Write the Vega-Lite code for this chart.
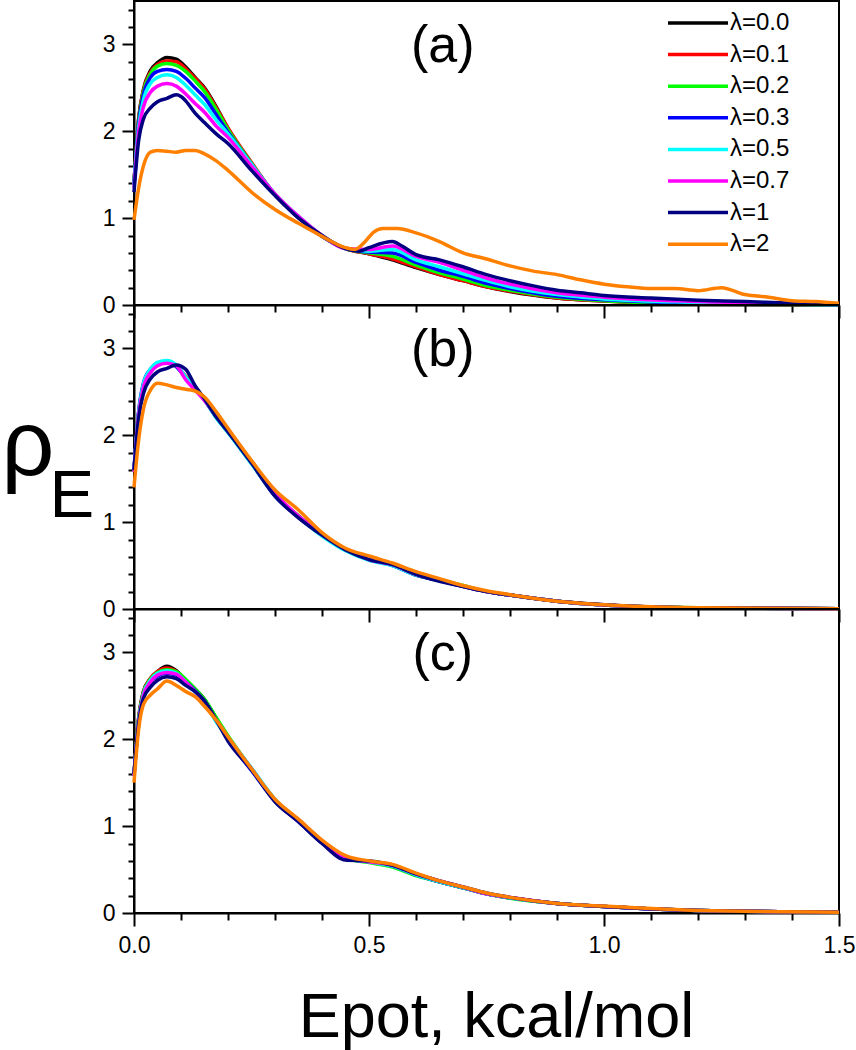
{
"$schema":"https://vega.github.io/schema/vega-lite/v6.json",
"padding":{"left":0,"top":0,"right":0,"bottom":0},
"background":"white",
"data":{"values":[
{"p":"a","l":"λ=0.0","x":0,"y":1.40},{"p":"a","l":"λ=0.0","x":0.01,"y":2.15},{"p":"a","l":"λ=0.0","x":0.02,"y":2.48},{"p":"a","l":"λ=0.0","x":0.035,"y":2.70},{"p":"a","l":"λ=0.0","x":0.05,"y":2.79},{"p":"a","l":"λ=0.0","x":0.07,"y":2.85},{"p":"a","l":"λ=0.0","x":0.09,"y":2.83},{"p":"a","l":"λ=0.0","x":0.11,"y":2.74},{"p":"a","l":"λ=0.0","x":0.13,"y":2.62},{"p":"a","l":"λ=0.0","x":0.15,"y":2.50},{"p":"a","l":"λ=0.0","x":0.175,"y":2.28},{"p":"a","l":"λ=0.0","x":0.2,"y":2.03},{"p":"a","l":"λ=0.0","x":0.25,"y":1.63},{"p":"a","l":"λ=0.0","x":0.3,"y":1.27},{"p":"a","l":"λ=0.0","x":0.35,"y":1.01},{"p":"a","l":"λ=0.0","x":0.4,"y":0.79},{"p":"a","l":"λ=0.0","x":0.45,"y":0.65},{"p":"a","l":"λ=0.0","x":0.5,"y":0.59},{"p":"a","l":"λ=0.0","x":0.55,"y":0.52},{"p":"a","l":"λ=0.0","x":0.6,"y":0.43},{"p":"a","l":"λ=0.0","x":0.65,"y":0.35},{"p":"a","l":"λ=0.0","x":0.7,"y":0.28},{"p":"a","l":"λ=0.0","x":0.75,"y":0.21},{"p":"a","l":"λ=0.0","x":0.8,"y":0.155},{"p":"a","l":"λ=0.0","x":0.9,"y":0.08},{"p":"a","l":"λ=0.0","x":1,"y":0.045},{"p":"a","l":"λ=0.0","x":1.2,"y":0.01},{"p":"a","l":"λ=0.0","x":1.5,"y":0.002},
{"p":"a","l":"λ=0.1","x":0,"y":1.40},{"p":"a","l":"λ=0.1","x":0.01,"y":2.14},{"p":"a","l":"λ=0.1","x":0.02,"y":2.47},{"p":"a","l":"λ=0.1","x":0.035,"y":2.68},{"p":"a","l":"λ=0.1","x":0.05,"y":2.77},{"p":"a","l":"λ=0.1","x":0.07,"y":2.81},{"p":"a","l":"λ=0.1","x":0.09,"y":2.80},{"p":"a","l":"λ=0.1","x":0.11,"y":2.72},{"p":"a","l":"λ=0.1","x":0.13,"y":2.61},{"p":"a","l":"λ=0.1","x":0.15,"y":2.49},{"p":"a","l":"λ=0.1","x":0.175,"y":2.27},{"p":"a","l":"λ=0.1","x":0.2,"y":2.04},{"p":"a","l":"λ=0.1","x":0.25,"y":1.64},{"p":"a","l":"λ=0.1","x":0.3,"y":1.27},{"p":"a","l":"λ=0.1","x":0.35,"y":1.01},{"p":"a","l":"λ=0.1","x":0.4,"y":0.79},{"p":"a","l":"λ=0.1","x":0.45,"y":0.65},{"p":"a","l":"λ=0.1","x":0.5,"y":0.59},{"p":"a","l":"λ=0.1","x":0.55,"y":0.53},{"p":"a","l":"λ=0.1","x":0.6,"y":0.44},{"p":"a","l":"λ=0.1","x":0.65,"y":0.35},{"p":"a","l":"λ=0.1","x":0.7,"y":0.28},{"p":"a","l":"λ=0.1","x":0.75,"y":0.21},{"p":"a","l":"λ=0.1","x":0.8,"y":0.16},{"p":"a","l":"λ=0.1","x":0.9,"y":0.08},{"p":"a","l":"λ=0.1","x":1,"y":0.045},{"p":"a","l":"λ=0.1","x":1.2,"y":0.012},{"p":"a","l":"λ=0.1","x":1.5,"y":0.002},
{"p":"a","l":"λ=0.2","x":0,"y":1.40},{"p":"a","l":"λ=0.2","x":0.01,"y":2.12},{"p":"a","l":"λ=0.2","x":0.02,"y":2.45},{"p":"a","l":"λ=0.2","x":0.035,"y":2.66},{"p":"a","l":"λ=0.2","x":0.05,"y":2.75},{"p":"a","l":"λ=0.2","x":0.07,"y":2.78},{"p":"a","l":"λ=0.2","x":0.09,"y":2.76},{"p":"a","l":"λ=0.2","x":0.11,"y":2.69},{"p":"a","l":"λ=0.2","x":0.13,"y":2.58},{"p":"a","l":"λ=0.2","x":0.15,"y":2.46},{"p":"a","l":"λ=0.2","x":0.175,"y":2.25},{"p":"a","l":"λ=0.2","x":0.2,"y":2.02},{"p":"a","l":"λ=0.2","x":0.25,"y":1.63},{"p":"a","l":"λ=0.2","x":0.3,"y":1.27},{"p":"a","l":"λ=0.2","x":0.35,"y":1.01},{"p":"a","l":"λ=0.2","x":0.4,"y":0.79},{"p":"a","l":"λ=0.2","x":0.45,"y":0.65},{"p":"a","l":"λ=0.2","x":0.5,"y":0.60},{"p":"a","l":"λ=0.2","x":0.55,"y":0.56},{"p":"a","l":"λ=0.2","x":0.6,"y":0.46},{"p":"a","l":"λ=0.2","x":0.65,"y":0.37},{"p":"a","l":"λ=0.2","x":0.7,"y":0.30},{"p":"a","l":"λ=0.2","x":0.75,"y":0.22},{"p":"a","l":"λ=0.2","x":0.8,"y":0.17},{"p":"a","l":"λ=0.2","x":0.9,"y":0.09},{"p":"a","l":"λ=0.2","x":1,"y":0.05},{"p":"a","l":"λ=0.2","x":1.2,"y":0.015},{"p":"a","l":"λ=0.2","x":1.5,"y":0.003},
{"p":"a","l":"λ=0.3","x":0,"y":1.39},{"p":"a","l":"λ=0.3","x":0.01,"y":2.10},{"p":"a","l":"λ=0.3","x":0.02,"y":2.42},{"p":"a","l":"λ=0.3","x":0.035,"y":2.62},{"p":"a","l":"λ=0.3","x":0.05,"y":2.69},{"p":"a","l":"λ=0.3","x":0.07,"y":2.71},{"p":"a","l":"λ=0.3","x":0.09,"y":2.69},{"p":"a","l":"λ=0.3","x":0.11,"y":2.61},{"p":"a","l":"λ=0.3","x":0.13,"y":2.50},{"p":"a","l":"λ=0.3","x":0.15,"y":2.39},{"p":"a","l":"λ=0.3","x":0.175,"y":2.19},{"p":"a","l":"λ=0.3","x":0.2,"y":1.99},{"p":"a","l":"λ=0.3","x":0.25,"y":1.62},{"p":"a","l":"λ=0.3","x":0.3,"y":1.27},{"p":"a","l":"λ=0.3","x":0.35,"y":1.01},{"p":"a","l":"λ=0.3","x":0.4,"y":0.79},{"p":"a","l":"λ=0.3","x":0.45,"y":0.65},{"p":"a","l":"λ=0.3","x":0.5,"y":0.61},{"p":"a","l":"λ=0.3","x":0.55,"y":0.60},{"p":"a","l":"λ=0.3","x":0.6,"y":0.49},{"p":"a","l":"λ=0.3","x":0.65,"y":0.40},{"p":"a","l":"λ=0.3","x":0.7,"y":0.33},{"p":"a","l":"λ=0.3","x":0.75,"y":0.25},{"p":"a","l":"λ=0.3","x":0.8,"y":0.19},{"p":"a","l":"λ=0.3","x":0.9,"y":0.10},{"p":"a","l":"λ=0.3","x":1,"y":0.06},{"p":"a","l":"λ=0.3","x":1.2,"y":0.02},{"p":"a","l":"λ=0.3","x":1.5,"y":0.004},
{"p":"a","l":"λ=0.5","x":0,"y":1.38},{"p":"a","l":"λ=0.5","x":0.01,"y":2.05},{"p":"a","l":"λ=0.5","x":0.02,"y":2.36},{"p":"a","l":"λ=0.5","x":0.035,"y":2.55},{"p":"a","l":"λ=0.5","x":0.05,"y":2.62},{"p":"a","l":"λ=0.5","x":0.07,"y":2.65},{"p":"a","l":"λ=0.5","x":0.09,"y":2.62},{"p":"a","l":"λ=0.5","x":0.11,"y":2.53},{"p":"a","l":"λ=0.5","x":0.13,"y":2.42},{"p":"a","l":"λ=0.5","x":0.15,"y":2.31},{"p":"a","l":"λ=0.5","x":0.175,"y":2.13},{"p":"a","l":"λ=0.5","x":0.2,"y":1.97},{"p":"a","l":"λ=0.5","x":0.25,"y":1.62},{"p":"a","l":"λ=0.5","x":0.3,"y":1.28},{"p":"a","l":"λ=0.5","x":0.35,"y":1.02},{"p":"a","l":"λ=0.5","x":0.4,"y":0.80},{"p":"a","l":"λ=0.5","x":0.45,"y":0.65},{"p":"a","l":"λ=0.5","x":0.5,"y":0.62},{"p":"a","l":"λ=0.5","x":0.55,"y":0.64},{"p":"a","l":"λ=0.5","x":0.6,"y":0.52},{"p":"a","l":"λ=0.5","x":0.65,"y":0.44},{"p":"a","l":"λ=0.5","x":0.7,"y":0.36},{"p":"a","l":"λ=0.5","x":0.75,"y":0.28},{"p":"a","l":"λ=0.5","x":0.8,"y":0.21},{"p":"a","l":"λ=0.5","x":0.9,"y":0.12},{"p":"a","l":"λ=0.5","x":1,"y":0.07},{"p":"a","l":"λ=0.5","x":1.2,"y":0.03},{"p":"a","l":"λ=0.5","x":1.5,"y":0.005},
{"p":"a","l":"λ=0.7","x":0,"y":1.35},{"p":"a","l":"λ=0.7","x":0.01,"y":2.00},{"p":"a","l":"λ=0.7","x":0.02,"y":2.28},{"p":"a","l":"λ=0.7","x":0.035,"y":2.45},{"p":"a","l":"λ=0.7","x":0.05,"y":2.52},{"p":"a","l":"λ=0.7","x":0.07,"y":2.55},{"p":"a","l":"λ=0.7","x":0.09,"y":2.52},{"p":"a","l":"λ=0.7","x":0.11,"y":2.43},{"p":"a","l":"λ=0.7","x":0.13,"y":2.32},{"p":"a","l":"λ=0.7","x":0.15,"y":2.22},{"p":"a","l":"λ=0.7","x":0.175,"y":2.06},{"p":"a","l":"λ=0.7","x":0.2,"y":1.93},{"p":"a","l":"λ=0.7","x":0.25,"y":1.60},{"p":"a","l":"λ=0.7","x":0.3,"y":1.28},{"p":"a","l":"λ=0.7","x":0.35,"y":1.02},{"p":"a","l":"λ=0.7","x":0.4,"y":0.80},{"p":"a","l":"λ=0.7","x":0.45,"y":0.65},{"p":"a","l":"λ=0.7","x":0.5,"y":0.64},{"p":"a","l":"λ=0.7","x":0.55,"y":0.68},{"p":"a","l":"λ=0.7","x":0.6,"y":0.56},{"p":"a","l":"λ=0.7","x":0.65,"y":0.49},{"p":"a","l":"λ=0.7","x":0.7,"y":0.40},{"p":"a","l":"λ=0.7","x":0.75,"y":0.31},{"p":"a","l":"λ=0.7","x":0.8,"y":0.24},{"p":"a","l":"λ=0.7","x":0.9,"y":0.14},{"p":"a","l":"λ=0.7","x":1,"y":0.09},{"p":"a","l":"λ=0.7","x":1.2,"y":0.04},{"p":"a","l":"λ=0.7","x":1.5,"y":0.01},
{"p":"a","l":"λ=1","x":0,"y":1.30},{"p":"a","l":"λ=1","x":0.01,"y":1.90},{"p":"a","l":"λ=1","x":0.02,"y":2.14},{"p":"a","l":"λ=1","x":0.035,"y":2.27},{"p":"a","l":"λ=1","x":0.05,"y":2.34},{"p":"a","l":"λ=1","x":0.07,"y":2.38},{"p":"a","l":"λ=1","x":0.09,"y":2.42},{"p":"a","l":"λ=1","x":0.1,"y":2.40},{"p":"a","l":"λ=1","x":0.11,"y":2.35},{"p":"a","l":"λ=1","x":0.13,"y":2.21},{"p":"a","l":"λ=1","x":0.15,"y":2.10},{"p":"a","l":"λ=1","x":0.175,"y":1.97},{"p":"a","l":"λ=1","x":0.2,"y":1.86},{"p":"a","l":"λ=1","x":0.25,"y":1.55},{"p":"a","l":"λ=1","x":0.3,"y":1.26},{"p":"a","l":"λ=1","x":0.35,"y":1.00},{"p":"a","l":"λ=1","x":0.4,"y":0.80},{"p":"a","l":"λ=1","x":0.45,"y":0.65},{"p":"a","l":"λ=1","x":0.48,"y":0.62},{"p":"a","l":"λ=1","x":0.5,"y":0.66},{"p":"a","l":"λ=1","x":0.55,"y":0.73},{"p":"a","l":"λ=1","x":0.57,"y":0.68},{"p":"a","l":"λ=1","x":0.6,"y":0.58},{"p":"a","l":"λ=1","x":0.65,"y":0.52},{"p":"a","l":"λ=1","x":0.7,"y":0.44},{"p":"a","l":"λ=1","x":0.75,"y":0.35},{"p":"a","l":"λ=1","x":0.8,"y":0.28},{"p":"a","l":"λ=1","x":0.85,"y":0.22},{"p":"a","l":"λ=1","x":0.9,"y":0.17},{"p":"a","l":"λ=1","x":0.95,"y":0.14},{"p":"a","l":"λ=1","x":1,"y":0.11},{"p":"a","l":"λ=1","x":1.1,"y":0.08},{"p":"a","l":"λ=1","x":1.2,"y":0.055},{"p":"a","l":"λ=1","x":1.3,"y":0.04},{"p":"a","l":"λ=1","x":1.4,"y":0.02},{"p":"a","l":"λ=1","x":1.5,"y":0.01},
{"p":"a","l":"λ=2","x":0,"y":0.98},{"p":"a","l":"λ=2","x":0.01,"y":1.35},{"p":"a","l":"λ=2","x":0.02,"y":1.60},{"p":"a","l":"λ=2","x":0.035,"y":1.76},{"p":"a","l":"λ=2","x":0.05,"y":1.78},{"p":"a","l":"λ=2","x":0.07,"y":1.77},{"p":"a","l":"λ=2","x":0.09,"y":1.76},{"p":"a","l":"λ=2","x":0.11,"y":1.78},{"p":"a","l":"λ=2","x":0.13,"y":1.78},{"p":"a","l":"λ=2","x":0.15,"y":1.74},{"p":"a","l":"λ=2","x":0.175,"y":1.66},{"p":"a","l":"λ=2","x":0.2,"y":1.55},{"p":"a","l":"λ=2","x":0.25,"y":1.30},{"p":"a","l":"λ=2","x":0.3,"y":1.10},{"p":"a","l":"λ=2","x":0.35,"y":0.94},{"p":"a","l":"λ=2","x":0.4,"y":0.79},{"p":"a","l":"λ=2","x":0.45,"y":0.66},{"p":"a","l":"λ=2","x":0.47,"y":0.64},{"p":"a","l":"λ=2","x":0.49,"y":0.72},{"p":"a","l":"λ=2","x":0.51,"y":0.84},{"p":"a","l":"λ=2","x":0.53,"y":0.88},{"p":"a","l":"λ=2","x":0.56,"y":0.88},{"p":"a","l":"λ=2","x":0.6,"y":0.83},{"p":"a","l":"λ=2","x":0.65,"y":0.73},{"p":"a","l":"λ=2","x":0.7,"y":0.60},{"p":"a","l":"λ=2","x":0.75,"y":0.53},{"p":"a","l":"λ=2","x":0.8,"y":0.45},{"p":"a","l":"λ=2","x":0.85,"y":0.39},{"p":"a","l":"λ=2","x":0.9,"y":0.35},{"p":"a","l":"λ=2","x":0.95,"y":0.29},{"p":"a","l":"λ=2","x":1,"y":0.24},{"p":"a","l":"λ=2","x":1.05,"y":0.21},{"p":"a","l":"λ=2","x":1.1,"y":0.19},{"p":"a","l":"λ=2","x":1.15,"y":0.19},{"p":"a","l":"λ=2","x":1.2,"y":0.165},{"p":"a","l":"λ=2","x":1.25,"y":0.20},{"p":"a","l":"λ=2","x":1.3,"y":0.12},{"p":"a","l":"λ=2","x":1.35,"y":0.09},{"p":"a","l":"λ=2","x":1.4,"y":0.05},{"p":"a","l":"λ=2","x":1.45,"y":0.04},{"p":"a","l":"λ=2","x":1.5,"y":0.02},
{"p":"b","l":"λ=0.0","x":0,"y":1.59},{"p":"b","l":"λ=0.0","x":0.01,"y":2.25},{"p":"b","l":"λ=0.0","x":0.02,"y":2.56},{"p":"b","l":"λ=0.0","x":0.035,"y":2.73},{"p":"b","l":"λ=0.0","x":0.05,"y":2.81},{"p":"b","l":"λ=0.0","x":0.07,"y":2.84},{"p":"b","l":"λ=0.0","x":0.09,"y":2.80},{"p":"b","l":"λ=0.0","x":0.11,"y":2.67},{"p":"b","l":"λ=0.0","x":0.13,"y":2.55},{"p":"b","l":"λ=0.0","x":0.15,"y":2.41},{"p":"b","l":"λ=0.0","x":0.175,"y":2.22},{"p":"b","l":"λ=0.0","x":0.2,"y":2.06},{"p":"b","l":"λ=0.0","x":0.25,"y":1.69},{"p":"b","l":"λ=0.0","x":0.3,"y":1.31},{"p":"b","l":"λ=0.0","x":0.35,"y":1.07},{"p":"b","l":"λ=0.0","x":0.4,"y":0.86},{"p":"b","l":"λ=0.0","x":0.45,"y":0.69},{"p":"b","l":"λ=0.0","x":0.5,"y":0.57},{"p":"b","l":"λ=0.0","x":0.55,"y":0.51},{"p":"b","l":"λ=0.0","x":0.6,"y":0.39},{"p":"b","l":"λ=0.0","x":0.65,"y":0.33},{"p":"b","l":"λ=0.0","x":0.7,"y":0.26},{"p":"b","l":"λ=0.0","x":0.75,"y":0.20},{"p":"b","l":"λ=0.0","x":0.8,"y":0.16},{"p":"b","l":"λ=0.0","x":0.9,"y":0.09},{"p":"b","l":"λ=0.0","x":1,"y":0.045},{"p":"b","l":"λ=0.0","x":1.2,"y":0.012},{"p":"b","l":"λ=0.0","x":1.5,"y":0.002},
{"p":"b","l":"λ=0.1","x":0,"y":1.59},{"p":"b","l":"λ=0.1","x":0.01,"y":2.26},{"p":"b","l":"λ=0.1","x":0.02,"y":2.57},{"p":"b","l":"λ=0.1","x":0.035,"y":2.74},{"p":"b","l":"λ=0.1","x":0.05,"y":2.81},{"p":"b","l":"λ=0.1","x":0.07,"y":2.84},{"p":"b","l":"λ=0.1","x":0.09,"y":2.80},{"p":"b","l":"λ=0.1","x":0.11,"y":2.68},{"p":"b","l":"λ=0.1","x":0.13,"y":2.55},{"p":"b","l":"λ=0.1","x":0.15,"y":2.41},{"p":"b","l":"λ=0.1","x":0.175,"y":2.21},{"p":"b","l":"λ=0.1","x":0.2,"y":2.05},{"p":"b","l":"λ=0.1","x":0.25,"y":1.68},{"p":"b","l":"λ=0.1","x":0.3,"y":1.31},{"p":"b","l":"λ=0.1","x":0.35,"y":1.06},{"p":"b","l":"λ=0.1","x":0.4,"y":0.86},{"p":"b","l":"λ=0.1","x":0.45,"y":0.68},{"p":"b","l":"λ=0.1","x":0.5,"y":0.57},{"p":"b","l":"λ=0.1","x":0.55,"y":0.52},{"p":"b","l":"λ=0.1","x":0.6,"y":0.40},{"p":"b","l":"λ=0.1","x":0.65,"y":0.33},{"p":"b","l":"λ=0.1","x":0.7,"y":0.26},{"p":"b","l":"λ=0.1","x":0.75,"y":0.20},{"p":"b","l":"λ=0.1","x":0.8,"y":0.16},{"p":"b","l":"λ=0.1","x":0.9,"y":0.09},{"p":"b","l":"λ=0.1","x":1,"y":0.045},{"p":"b","l":"λ=0.1","x":1.2,"y":0.012},{"p":"b","l":"λ=0.1","x":1.5,"y":0.002},
{"p":"b","l":"λ=0.2","x":0,"y":1.58},{"p":"b","l":"λ=0.2","x":0.01,"y":2.25},{"p":"b","l":"λ=0.2","x":0.02,"y":2.57},{"p":"b","l":"λ=0.2","x":0.035,"y":2.74},{"p":"b","l":"λ=0.2","x":0.05,"y":2.82},{"p":"b","l":"λ=0.2","x":0.07,"y":2.84},{"p":"b","l":"λ=0.2","x":0.09,"y":2.79},{"p":"b","l":"λ=0.2","x":0.11,"y":2.67},{"p":"b","l":"λ=0.2","x":0.13,"y":2.55},{"p":"b","l":"λ=0.2","x":0.15,"y":2.42},{"p":"b","l":"λ=0.2","x":0.175,"y":2.22},{"p":"b","l":"λ=0.2","x":0.2,"y":2.05},{"p":"b","l":"λ=0.2","x":0.25,"y":1.69},{"p":"b","l":"λ=0.2","x":0.3,"y":1.32},{"p":"b","l":"λ=0.2","x":0.35,"y":1.07},{"p":"b","l":"λ=0.2","x":0.4,"y":0.85},{"p":"b","l":"λ=0.2","x":0.45,"y":0.69},{"p":"b","l":"λ=0.2","x":0.5,"y":0.58},{"p":"b","l":"λ=0.2","x":0.55,"y":0.51},{"p":"b","l":"λ=0.2","x":0.6,"y":0.41},{"p":"b","l":"λ=0.2","x":0.65,"y":0.34},{"p":"b","l":"λ=0.2","x":0.7,"y":0.27},{"p":"b","l":"λ=0.2","x":0.75,"y":0.20},{"p":"b","l":"λ=0.2","x":0.8,"y":0.16},{"p":"b","l":"λ=0.2","x":0.9,"y":0.09},{"p":"b","l":"λ=0.2","x":1,"y":0.045},{"p":"b","l":"λ=0.2","x":1.2,"y":0.013},{"p":"b","l":"λ=0.2","x":1.5,"y":0.002},
{"p":"b","l":"λ=0.3","x":0,"y":1.60},{"p":"b","l":"λ=0.3","x":0.01,"y":2.28},{"p":"b","l":"λ=0.3","x":0.02,"y":2.60},{"p":"b","l":"λ=0.3","x":0.035,"y":2.76},{"p":"b","l":"λ=0.3","x":0.05,"y":2.83},{"p":"b","l":"λ=0.3","x":0.07,"y":2.84},{"p":"b","l":"λ=0.3","x":0.09,"y":2.79},{"p":"b","l":"λ=0.3","x":0.11,"y":2.66},{"p":"b","l":"λ=0.3","x":0.13,"y":2.54},{"p":"b","l":"λ=0.3","x":0.15,"y":2.41},{"p":"b","l":"λ=0.3","x":0.175,"y":2.21},{"p":"b","l":"λ=0.3","x":0.2,"y":2.04},{"p":"b","l":"λ=0.3","x":0.25,"y":1.68},{"p":"b","l":"λ=0.3","x":0.3,"y":1.30},{"p":"b","l":"λ=0.3","x":0.35,"y":1.06},{"p":"b","l":"λ=0.3","x":0.4,"y":0.85},{"p":"b","l":"λ=0.3","x":0.45,"y":0.68},{"p":"b","l":"λ=0.3","x":0.5,"y":0.57},{"p":"b","l":"λ=0.3","x":0.55,"y":0.50},{"p":"b","l":"λ=0.3","x":0.6,"y":0.39},{"p":"b","l":"λ=0.3","x":0.65,"y":0.33},{"p":"b","l":"λ=0.3","x":0.7,"y":0.26},{"p":"b","l":"λ=0.3","x":0.75,"y":0.20},{"p":"b","l":"λ=0.3","x":0.8,"y":0.16},{"p":"b","l":"λ=0.3","x":0.9,"y":0.09},{"p":"b","l":"λ=0.3","x":1,"y":0.045},{"p":"b","l":"λ=0.3","x":1.2,"y":0.012},{"p":"b","l":"λ=0.3","x":1.5,"y":0.002},
{"p":"b","l":"λ=0.5","x":0,"y":1.60},{"p":"b","l":"λ=0.5","x":0.01,"y":2.27},{"p":"b","l":"λ=0.5","x":0.02,"y":2.59},{"p":"b","l":"λ=0.5","x":0.035,"y":2.76},{"p":"b","l":"λ=0.5","x":0.05,"y":2.84},{"p":"b","l":"λ=0.5","x":0.07,"y":2.86},{"p":"b","l":"λ=0.5","x":0.09,"y":2.81},{"p":"b","l":"λ=0.5","x":0.11,"y":2.67},{"p":"b","l":"λ=0.5","x":0.13,"y":2.54},{"p":"b","l":"λ=0.5","x":0.15,"y":2.40},{"p":"b","l":"λ=0.5","x":0.175,"y":2.20},{"p":"b","l":"λ=0.5","x":0.2,"y":2.03},{"p":"b","l":"λ=0.5","x":0.25,"y":1.67},{"p":"b","l":"λ=0.5","x":0.3,"y":1.31},{"p":"b","l":"λ=0.5","x":0.35,"y":1.06},{"p":"b","l":"λ=0.5","x":0.4,"y":0.84},{"p":"b","l":"λ=0.5","x":0.45,"y":0.67},{"p":"b","l":"λ=0.5","x":0.5,"y":0.56},{"p":"b","l":"λ=0.5","x":0.55,"y":0.50},{"p":"b","l":"λ=0.5","x":0.6,"y":0.39},{"p":"b","l":"λ=0.5","x":0.65,"y":0.33},{"p":"b","l":"λ=0.5","x":0.7,"y":0.26},{"p":"b","l":"λ=0.5","x":0.75,"y":0.20},{"p":"b","l":"λ=0.5","x":0.8,"y":0.16},{"p":"b","l":"λ=0.5","x":0.9,"y":0.09},{"p":"b","l":"λ=0.5","x":1,"y":0.045},{"p":"b","l":"λ=0.5","x":1.2,"y":0.012},{"p":"b","l":"λ=0.5","x":1.5,"y":0.002},
{"p":"b","l":"λ=0.7","x":0,"y":1.58},{"p":"b","l":"λ=0.7","x":0.01,"y":2.24},{"p":"b","l":"λ=0.7","x":0.02,"y":2.55},{"p":"b","l":"λ=0.7","x":0.035,"y":2.72},{"p":"b","l":"λ=0.7","x":0.05,"y":2.80},{"p":"b","l":"λ=0.7","x":0.07,"y":2.83},{"p":"b","l":"λ=0.7","x":0.09,"y":2.80},{"p":"b","l":"λ=0.7","x":0.11,"y":2.64},{"p":"b","l":"λ=0.7","x":0.13,"y":2.52},{"p":"b","l":"λ=0.7","x":0.15,"y":2.40},{"p":"b","l":"λ=0.7","x":0.175,"y":2.22},{"p":"b","l":"λ=0.7","x":0.2,"y":2.06},{"p":"b","l":"λ=0.7","x":0.25,"y":1.69},{"p":"b","l":"λ=0.7","x":0.3,"y":1.33},{"p":"b","l":"λ=0.7","x":0.35,"y":1.07},{"p":"b","l":"λ=0.7","x":0.4,"y":0.86},{"p":"b","l":"λ=0.7","x":0.45,"y":0.69},{"p":"b","l":"λ=0.7","x":0.5,"y":0.57},{"p":"b","l":"λ=0.7","x":0.55,"y":0.51},{"p":"b","l":"λ=0.7","x":0.6,"y":0.40},{"p":"b","l":"λ=0.7","x":0.65,"y":0.33},{"p":"b","l":"λ=0.7","x":0.7,"y":0.26},{"p":"b","l":"λ=0.7","x":0.75,"y":0.20},{"p":"b","l":"λ=0.7","x":0.8,"y":0.16},{"p":"b","l":"λ=0.7","x":0.9,"y":0.09},{"p":"b","l":"λ=0.7","x":1,"y":0.045},{"p":"b","l":"λ=0.7","x":1.2,"y":0.012},{"p":"b","l":"λ=0.7","x":1.5,"y":0.002},
{"p":"b","l":"λ=1","x":0,"y":1.60},{"p":"b","l":"λ=1","x":0.01,"y":2.20},{"p":"b","l":"λ=1","x":0.02,"y":2.48},{"p":"b","l":"λ=1","x":0.035,"y":2.65},{"p":"b","l":"λ=1","x":0.05,"y":2.73},{"p":"b","l":"λ=1","x":0.07,"y":2.77},{"p":"b","l":"λ=1","x":0.09,"y":2.81},{"p":"b","l":"λ=1","x":0.11,"y":2.76},{"p":"b","l":"λ=1","x":0.13,"y":2.57},{"p":"b","l":"λ=1","x":0.15,"y":2.42},{"p":"b","l":"λ=1","x":0.175,"y":2.21},{"p":"b","l":"λ=1","x":0.2,"y":2.04},{"p":"b","l":"λ=1","x":0.25,"y":1.68},{"p":"b","l":"λ=1","x":0.3,"y":1.30},{"p":"b","l":"λ=1","x":0.35,"y":1.05},{"p":"b","l":"λ=1","x":0.4,"y":0.85},{"p":"b","l":"λ=1","x":0.45,"y":0.68},{"p":"b","l":"λ=1","x":0.5,"y":0.57},{"p":"b","l":"λ=1","x":0.55,"y":0.51},{"p":"b","l":"λ=1","x":0.6,"y":0.40},{"p":"b","l":"λ=1","x":0.65,"y":0.32},{"p":"b","l":"λ=1","x":0.7,"y":0.26},{"p":"b","l":"λ=1","x":0.75,"y":0.20},{"p":"b","l":"λ=1","x":0.8,"y":0.16},{"p":"b","l":"λ=1","x":0.9,"y":0.09},{"p":"b","l":"λ=1","x":1,"y":0.05},{"p":"b","l":"λ=1","x":1.2,"y":0.012},{"p":"b","l":"λ=1","x":1.5,"y":0.002},
{"p":"b","l":"λ=2","x":0,"y":1.40},{"p":"b","l":"λ=2","x":0.01,"y":1.95},{"p":"b","l":"λ=2","x":0.02,"y":2.30},{"p":"b","l":"λ=2","x":0.035,"y":2.52},{"p":"b","l":"λ=2","x":0.05,"y":2.60},{"p":"b","l":"λ=2","x":0.07,"y":2.58},{"p":"b","l":"λ=2","x":0.09,"y":2.55},{"p":"b","l":"λ=2","x":0.11,"y":2.53},{"p":"b","l":"λ=2","x":0.13,"y":2.51},{"p":"b","l":"λ=2","x":0.15,"y":2.44},{"p":"b","l":"λ=2","x":0.175,"y":2.27},{"p":"b","l":"λ=2","x":0.2,"y":2.08},{"p":"b","l":"λ=2","x":0.25,"y":1.71},{"p":"b","l":"λ=2","x":0.3,"y":1.37},{"p":"b","l":"λ=2","x":0.35,"y":1.14},{"p":"b","l":"λ=2","x":0.4,"y":0.88},{"p":"b","l":"λ=2","x":0.45,"y":0.70},{"p":"b","l":"λ=2","x":0.5,"y":0.61},{"p":"b","l":"λ=2","x":0.55,"y":0.53},{"p":"b","l":"λ=2","x":0.6,"y":0.43},{"p":"b","l":"λ=2","x":0.65,"y":0.35},{"p":"b","l":"λ=2","x":0.7,"y":0.27},{"p":"b","l":"λ=2","x":0.75,"y":0.21},{"p":"b","l":"λ=2","x":0.8,"y":0.165},{"p":"b","l":"λ=2","x":0.9,"y":0.09},{"p":"b","l":"λ=2","x":1,"y":0.05},{"p":"b","l":"λ=2","x":1.2,"y":0.015},{"p":"b","l":"λ=2","x":1.5,"y":0.002},
{"p":"c","l":"λ=0.0","x":0,"y":1.59},{"p":"c","l":"λ=0.0","x":0.01,"y":2.25},{"p":"c","l":"λ=0.0","x":0.02,"y":2.55},{"p":"c","l":"λ=0.0","x":0.035,"y":2.70},{"p":"c","l":"λ=0.0","x":0.05,"y":2.78},{"p":"c","l":"λ=0.0","x":0.07,"y":2.84},{"p":"c","l":"λ=0.0","x":0.09,"y":2.79},{"p":"c","l":"λ=0.0","x":0.11,"y":2.68},{"p":"c","l":"λ=0.0","x":0.13,"y":2.58},{"p":"c","l":"λ=0.0","x":0.15,"y":2.46},{"p":"c","l":"λ=0.0","x":0.175,"y":2.24},{"p":"c","l":"λ=0.0","x":0.2,"y":2.03},{"p":"c","l":"λ=0.0","x":0.25,"y":1.66},{"p":"c","l":"λ=0.0","x":0.3,"y":1.30},{"p":"c","l":"λ=0.0","x":0.35,"y":1.06},{"p":"c","l":"λ=0.0","x":0.4,"y":0.82},{"p":"c","l":"λ=0.0","x":0.45,"y":0.63},{"p":"c","l":"λ=0.0","x":0.5,"y":0.59},{"p":"c","l":"λ=0.0","x":0.55,"y":0.54},{"p":"c","l":"λ=0.0","x":0.6,"y":0.44},{"p":"c","l":"λ=0.0","x":0.65,"y":0.36},{"p":"c","l":"λ=0.0","x":0.7,"y":0.29},{"p":"c","l":"λ=0.0","x":0.75,"y":0.22},{"p":"c","l":"λ=0.0","x":0.8,"y":0.175},{"p":"c","l":"λ=0.0","x":0.9,"y":0.11},{"p":"c","l":"λ=0.0","x":1,"y":0.075},{"p":"c","l":"λ=0.0","x":1.2,"y":0.03},{"p":"c","l":"λ=0.0","x":1.5,"y":0.01},
{"p":"c","l":"λ=0.1","x":0,"y":1.59},{"p":"c","l":"λ=0.1","x":0.01,"y":2.24},{"p":"c","l":"λ=0.1","x":0.02,"y":2.54},{"p":"c","l":"λ=0.1","x":0.035,"y":2.70},{"p":"c","l":"λ=0.1","x":0.05,"y":2.78},{"p":"c","l":"λ=0.1","x":0.07,"y":2.82},{"p":"c","l":"λ=0.1","x":0.09,"y":2.78},{"p":"c","l":"λ=0.1","x":0.11,"y":2.68},{"p":"c","l":"λ=0.1","x":0.13,"y":2.57},{"p":"c","l":"λ=0.1","x":0.15,"y":2.45},{"p":"c","l":"λ=0.1","x":0.175,"y":2.24},{"p":"c","l":"λ=0.1","x":0.2,"y":2.03},{"p":"c","l":"λ=0.1","x":0.25,"y":1.66},{"p":"c","l":"λ=0.1","x":0.3,"y":1.30},{"p":"c","l":"λ=0.1","x":0.35,"y":1.06},{"p":"c","l":"λ=0.1","x":0.4,"y":0.82},{"p":"c","l":"λ=0.1","x":0.45,"y":0.63},{"p":"c","l":"λ=0.1","x":0.5,"y":0.59},{"p":"c","l":"λ=0.1","x":0.55,"y":0.54},{"p":"c","l":"λ=0.1","x":0.6,"y":0.44},{"p":"c","l":"λ=0.1","x":0.65,"y":0.36},{"p":"c","l":"λ=0.1","x":0.7,"y":0.29},{"p":"c","l":"λ=0.1","x":0.75,"y":0.22},{"p":"c","l":"λ=0.1","x":0.8,"y":0.175},{"p":"c","l":"λ=0.1","x":0.9,"y":0.11},{"p":"c","l":"λ=0.1","x":1,"y":0.075},{"p":"c","l":"λ=0.1","x":1.2,"y":0.03},{"p":"c","l":"λ=0.1","x":1.5,"y":0.01},
{"p":"c","l":"λ=0.2","x":0,"y":1.58},{"p":"c","l":"λ=0.2","x":0.01,"y":2.23},{"p":"c","l":"λ=0.2","x":0.02,"y":2.53},{"p":"c","l":"λ=0.2","x":0.035,"y":2.69},{"p":"c","l":"λ=0.2","x":0.05,"y":2.77},{"p":"c","l":"λ=0.2","x":0.07,"y":2.80},{"p":"c","l":"λ=0.2","x":0.09,"y":2.78},{"p":"c","l":"λ=0.2","x":0.11,"y":2.69},{"p":"c","l":"λ=0.2","x":0.13,"y":2.58},{"p":"c","l":"λ=0.2","x":0.15,"y":2.46},{"p":"c","l":"λ=0.2","x":0.175,"y":2.25},{"p":"c","l":"λ=0.2","x":0.2,"y":2.04},{"p":"c","l":"λ=0.2","x":0.25,"y":1.66},{"p":"c","l":"λ=0.2","x":0.3,"y":1.30},{"p":"c","l":"λ=0.2","x":0.35,"y":1.06},{"p":"c","l":"λ=0.2","x":0.4,"y":0.82},{"p":"c","l":"λ=0.2","x":0.45,"y":0.63},{"p":"c","l":"λ=0.2","x":0.5,"y":0.58},{"p":"c","l":"λ=0.2","x":0.55,"y":0.53},{"p":"c","l":"λ=0.2","x":0.6,"y":0.43},{"p":"c","l":"λ=0.2","x":0.65,"y":0.36},{"p":"c","l":"λ=0.2","x":0.7,"y":0.29},{"p":"c","l":"λ=0.2","x":0.75,"y":0.22},{"p":"c","l":"λ=0.2","x":0.8,"y":0.17},{"p":"c","l":"λ=0.2","x":0.9,"y":0.11},{"p":"c","l":"λ=0.2","x":1,"y":0.075},{"p":"c","l":"λ=0.2","x":1.2,"y":0.03},{"p":"c","l":"λ=0.2","x":1.5,"y":0.01},
{"p":"c","l":"λ=0.3","x":0,"y":1.58},{"p":"c","l":"λ=0.3","x":0.01,"y":2.20},{"p":"c","l":"λ=0.3","x":0.02,"y":2.50},{"p":"c","l":"λ=0.3","x":0.035,"y":2.66},{"p":"c","l":"λ=0.3","x":0.05,"y":2.73},{"p":"c","l":"λ=0.3","x":0.07,"y":2.76},{"p":"c","l":"λ=0.3","x":0.09,"y":2.74},{"p":"c","l":"λ=0.3","x":0.11,"y":2.66},{"p":"c","l":"λ=0.3","x":0.13,"y":2.56},{"p":"c","l":"λ=0.3","x":0.15,"y":2.44},{"p":"c","l":"λ=0.3","x":0.175,"y":2.22},{"p":"c","l":"λ=0.3","x":0.2,"y":2.00},{"p":"c","l":"λ=0.3","x":0.25,"y":1.64},{"p":"c","l":"λ=0.3","x":0.3,"y":1.29},{"p":"c","l":"λ=0.3","x":0.35,"y":1.05},{"p":"c","l":"λ=0.3","x":0.4,"y":0.81},{"p":"c","l":"λ=0.3","x":0.45,"y":0.62},{"p":"c","l":"λ=0.3","x":0.5,"y":0.59},{"p":"c","l":"λ=0.3","x":0.55,"y":0.54},{"p":"c","l":"λ=0.3","x":0.6,"y":0.44},{"p":"c","l":"λ=0.3","x":0.65,"y":0.36},{"p":"c","l":"λ=0.3","x":0.7,"y":0.29},{"p":"c","l":"λ=0.3","x":0.75,"y":0.22},{"p":"c","l":"λ=0.3","x":0.8,"y":0.175},{"p":"c","l":"λ=0.3","x":0.9,"y":0.11},{"p":"c","l":"λ=0.3","x":1,"y":0.075},{"p":"c","l":"λ=0.3","x":1.2,"y":0.03},{"p":"c","l":"λ=0.3","x":1.5,"y":0.01},
{"p":"c","l":"λ=0.5","x":0,"y":1.59},{"p":"c","l":"λ=0.5","x":0.01,"y":2.22},{"p":"c","l":"λ=0.5","x":0.02,"y":2.52},{"p":"c","l":"λ=0.5","x":0.035,"y":2.68},{"p":"c","l":"λ=0.5","x":0.05,"y":2.76},{"p":"c","l":"λ=0.5","x":0.07,"y":2.79},{"p":"c","l":"λ=0.5","x":0.09,"y":2.76},{"p":"c","l":"λ=0.5","x":0.11,"y":2.66},{"p":"c","l":"λ=0.5","x":0.13,"y":2.54},{"p":"c","l":"λ=0.5","x":0.15,"y":2.42},{"p":"c","l":"λ=0.5","x":0.175,"y":2.20},{"p":"c","l":"λ=0.5","x":0.2,"y":2.02},{"p":"c","l":"λ=0.5","x":0.25,"y":1.67},{"p":"c","l":"λ=0.5","x":0.3,"y":1.31},{"p":"c","l":"λ=0.5","x":0.35,"y":1.06},{"p":"c","l":"λ=0.5","x":0.4,"y":0.83},{"p":"c","l":"λ=0.5","x":0.45,"y":0.63},{"p":"c","l":"λ=0.5","x":0.5,"y":0.59},{"p":"c","l":"λ=0.5","x":0.55,"y":0.54},{"p":"c","l":"λ=0.5","x":0.6,"y":0.44},{"p":"c","l":"λ=0.5","x":0.65,"y":0.36},{"p":"c","l":"λ=0.5","x":0.7,"y":0.29},{"p":"c","l":"λ=0.5","x":0.75,"y":0.22},{"p":"c","l":"λ=0.5","x":0.8,"y":0.175},{"p":"c","l":"λ=0.5","x":0.9,"y":0.11},{"p":"c","l":"λ=0.5","x":1,"y":0.075},{"p":"c","l":"λ=0.5","x":1.2,"y":0.03},{"p":"c","l":"λ=0.5","x":1.5,"y":0.01},
{"p":"c","l":"λ=0.7","x":0,"y":1.58},{"p":"c","l":"λ=0.7","x":0.01,"y":2.20},{"p":"c","l":"λ=0.7","x":0.02,"y":2.50},{"p":"c","l":"λ=0.7","x":0.035,"y":2.66},{"p":"c","l":"λ=0.7","x":0.05,"y":2.74},{"p":"c","l":"λ=0.7","x":0.07,"y":2.77},{"p":"c","l":"λ=0.7","x":0.09,"y":2.75},{"p":"c","l":"λ=0.7","x":0.11,"y":2.66},{"p":"c","l":"λ=0.7","x":0.13,"y":2.55},{"p":"c","l":"λ=0.7","x":0.15,"y":2.43},{"p":"c","l":"λ=0.7","x":0.175,"y":2.22},{"p":"c","l":"λ=0.7","x":0.2,"y":2.02},{"p":"c","l":"λ=0.7","x":0.25,"y":1.66},{"p":"c","l":"λ=0.7","x":0.3,"y":1.30},{"p":"c","l":"λ=0.7","x":0.35,"y":1.07},{"p":"c","l":"λ=0.7","x":0.4,"y":0.83},{"p":"c","l":"λ=0.7","x":0.45,"y":0.63},{"p":"c","l":"λ=0.7","x":0.5,"y":0.59},{"p":"c","l":"λ=0.7","x":0.55,"y":0.55},{"p":"c","l":"λ=0.7","x":0.6,"y":0.45},{"p":"c","l":"λ=0.7","x":0.65,"y":0.37},{"p":"c","l":"λ=0.7","x":0.7,"y":0.30},{"p":"c","l":"λ=0.7","x":0.75,"y":0.22},{"p":"c","l":"λ=0.7","x":0.8,"y":0.18},{"p":"c","l":"λ=0.7","x":0.9,"y":0.11},{"p":"c","l":"λ=0.7","x":1,"y":0.075},{"p":"c","l":"λ=0.7","x":1.2,"y":0.03},{"p":"c","l":"λ=0.7","x":1.5,"y":0.01},
{"p":"c","l":"λ=1","x":0,"y":1.60},{"p":"c","l":"λ=1","x":0.01,"y":2.18},{"p":"c","l":"λ=1","x":0.02,"y":2.47},{"p":"c","l":"λ=1","x":0.035,"y":2.60},{"p":"c","l":"λ=1","x":0.05,"y":2.68},{"p":"c","l":"λ=1","x":0.07,"y":2.72},{"p":"c","l":"λ=1","x":0.09,"y":2.70},{"p":"c","l":"λ=1","x":0.11,"y":2.62},{"p":"c","l":"λ=1","x":0.13,"y":2.55},{"p":"c","l":"λ=1","x":0.15,"y":2.44},{"p":"c","l":"λ=1","x":0.175,"y":2.22},{"p":"c","l":"λ=1","x":0.2,"y":1.98},{"p":"c","l":"λ=1","x":0.25,"y":1.65},{"p":"c","l":"λ=1","x":0.3,"y":1.28},{"p":"c","l":"λ=1","x":0.35,"y":1.05},{"p":"c","l":"λ=1","x":0.4,"y":0.80},{"p":"c","l":"λ=1","x":0.45,"y":0.61},{"p":"c","l":"λ=1","x":0.5,"y":0.60},{"p":"c","l":"λ=1","x":0.55,"y":0.55},{"p":"c","l":"λ=1","x":0.6,"y":0.45},{"p":"c","l":"λ=1","x":0.65,"y":0.37},{"p":"c","l":"λ=1","x":0.7,"y":0.30},{"p":"c","l":"λ=1","x":0.75,"y":0.23},{"p":"c","l":"λ=1","x":0.8,"y":0.18},{"p":"c","l":"λ=1","x":0.9,"y":0.11},{"p":"c","l":"λ=1","x":1,"y":0.075},{"p":"c","l":"λ=1","x":1.2,"y":0.03},{"p":"c","l":"λ=1","x":1.5,"y":0.01},
{"p":"c","l":"λ=2","x":0,"y":1.50},{"p":"c","l":"λ=2","x":0.01,"y":2.12},{"p":"c","l":"λ=2","x":0.02,"y":2.40},{"p":"c","l":"λ=2","x":0.035,"y":2.51},{"p":"c","l":"λ=2","x":0.05,"y":2.58},{"p":"c","l":"λ=2","x":0.07,"y":2.67},{"p":"c","l":"λ=2","x":0.09,"y":2.62},{"p":"c","l":"λ=2","x":0.11,"y":2.55},{"p":"c","l":"λ=2","x":0.13,"y":2.49},{"p":"c","l":"λ=2","x":0.15,"y":2.38},{"p":"c","l":"λ=2","x":0.175,"y":2.22},{"p":"c","l":"λ=2","x":0.2,"y":2.03},{"p":"c","l":"λ=2","x":0.25,"y":1.66},{"p":"c","l":"λ=2","x":0.3,"y":1.31},{"p":"c","l":"λ=2","x":0.35,"y":1.08},{"p":"c","l":"λ=2","x":0.4,"y":0.84},{"p":"c","l":"λ=2","x":0.45,"y":0.66},{"p":"c","l":"λ=2","x":0.5,"y":0.60},{"p":"c","l":"λ=2","x":0.55,"y":0.56},{"p":"c","l":"λ=2","x":0.6,"y":0.46},{"p":"c","l":"λ=2","x":0.65,"y":0.37},{"p":"c","l":"λ=2","x":0.7,"y":0.30},{"p":"c","l":"λ=2","x":0.75,"y":0.23},{"p":"c","l":"λ=2","x":0.8,"y":0.18},{"p":"c","l":"λ=2","x":0.9,"y":0.11},{"p":"c","l":"λ=2","x":1,"y":0.08},{"p":"c","l":"λ=2","x":1.2,"y":0.03},{"p":"c","l":"λ=2","x":1.5,"y":0.01}
]},
"vconcat":[
{"width":705,"height":304,
 "layer":[
  {"transform":[{"filter":"datum.p == 'a'"}],
   "mark":{"type":"line","strokeWidth":3.5,"interpolate":"monotone","strokeJoin":"round"},
   "encoding":{
    "x":{"field":"x","type":"quantitative","scale":{"domain":[0,1.5],"nice":false,"zero":false},
      "axis":{"values":[0,0.1,0.2,0.3,0.4,0.5,0.6,0.7,0.8,0.9,1,1.1,1.2,1.3,1.4,1.5],"labels":false,"title":null,
       "tickSize":{"condition":{"test":"abs(datum.value*2-round(datum.value*2))<0.001","value":13},"value":7}}},
    "y":{"field":"y","type":"quantitative","scale":{"domain":[0,3.5],"nice":false},
      "axis":{"values":[0,0.2,0.4,0.6,0.8,1,1.2,1.4,1.6,1.8,2,2.2,2.4,2.6,2.8,3,3.2,3.4],"title":null,
       "labelExpr":"datum.value==round(datum.value)?format(datum.value,'d'):''","labelPadding":7,
       "labelFontSize":{"condition":{"test":"datum.value==round(datum.value)","value":23},"value":1},
       "tickSize":{"condition":{"test":"datum.value==round(datum.value)","value":12},"value":6}}},
    "color":{"field":"l","type":"nominal",
      "scale":{"domain":["λ=0.0","λ=0.1","λ=0.2","λ=0.3","λ=0.5","λ=0.7","λ=1","λ=2"],
               "range":["#000000","#ff0000","#00ff00","#0000ff","#00ffff","#ff00ff","#000080","#ff8000"]},
      "legend":{"orient":"none","legendX":552,"legendY":10,"title":null,"symbolType":"M-5,0L5,0","symbolSize":144,
        "symbolStrokeWidth":3.5,"labelFont":"Liberation Sans","labelFontSize":24,"labelColor":"black","labelOffset":20,
        "rowPadding":7.6,"padding":0,"labelLimit":300}}
   }},
  {"data":{"values":[{"t":"(a)"}]},
   "mark":{"type":"text","font":"Liberation Sans","fontSize":52,"align":"center","baseline":"middle","color":"black"},
   "encoding":{
    "x":{"datum":0.657,"type":"quantitative",
      "axis":{"values":[0,0.1,0.2,0.3,0.4,0.5,0.6,0.7,0.8,0.9,1,1.1,1.2,1.3,1.4,1.5],"labels":false,"title":null,
       "tickSize":{"condition":{"test":"abs(datum.value*2-round(datum.value*2))<0.001","value":13},"value":7}}},
    "y":{"datum":2.98,"type":"quantitative",
      "axis":{"values":[0,0.2,0.4,0.6,0.8,1,1.2,1.4,1.6,1.8,2,2.2,2.4,2.6,2.8,3,3.2,3.4],"title":null,
       "labelExpr":"datum.value==round(datum.value)?format(datum.value,'d'):''","labelPadding":7,
       "labelFontSize":{"condition":{"test":"datum.value==round(datum.value)","value":23},"value":1},
       "tickSize":{"condition":{"test":"datum.value==round(datum.value)","value":12},"value":6}}},
    "text":{"field":"t"}}}
 ]},
{"width":705,"height":304,
 "layer":[
  {"transform":[{"filter":"datum.p == 'b'"}],
   "mark":{"type":"line","strokeWidth":3.5,"interpolate":"monotone","strokeJoin":"round"},
   "encoding":{
    "x":{"field":"x","type":"quantitative","scale":{"domain":[0,1.5],"nice":false,"zero":false},
      "axis":{"values":[0,0.1,0.2,0.3,0.4,0.5,0.6,0.7,0.8,0.9,1,1.1,1.2,1.3,1.4,1.5],"labels":false,"title":null,
       "tickSize":{"condition":{"test":"abs(datum.value*2-round(datum.value*2))<0.001","value":13},"value":7}}},
    "y":{"field":"y","type":"quantitative","scale":{"domain":[0,3.5],"nice":false},
      "axis":{"values":[0,0.2,0.4,0.6,0.8,1,1.2,1.4,1.6,1.8,2,2.2,2.4,2.6,2.8,3,3.2,3.4],
       "title":"ρ","titleAngle":0,"titleFontSize":93,"titleAlign":"left","titleBaseline":"alphabetic","titleX":-133,"titleY":169,
       "labelExpr":"datum.value==round(datum.value)?format(datum.value,'d'):''","labelPadding":7,
       "labelFontSize":{"condition":{"test":"datum.value==round(datum.value)","value":23},"value":1},
       "tickSize":{"condition":{"test":"datum.value==round(datum.value)","value":12},"value":6}}},
    "color":{"field":"l","type":"nominal",
      "scale":{"domain":["λ=0.0","λ=0.1","λ=0.2","λ=0.3","λ=0.5","λ=0.7","λ=1","λ=2"],
               "range":["#000000","#ff0000","#00ff00","#0000ff","#00ffff","#ff00ff","#000080","#ff8000"]},
      "legend":null}
   }},
  {"data":{"values":[{"t":"(b)"}]},
   "mark":{"type":"text","font":"Liberation Sans","fontSize":52,"align":"center","baseline":"middle","color":"black"},
   "encoding":{
    "x":{"datum":0.657,"type":"quantitative",
      "axis":{"values":[0,0.1,0.2,0.3,0.4,0.5,0.6,0.7,0.8,0.9,1,1.1,1.2,1.3,1.4,1.5],"labels":false,"title":null,
       "tickSize":{"condition":{"test":"abs(datum.value*2-round(datum.value*2))<0.001","value":13},"value":7}}},
    "y":{"datum":2.98,"type":"quantitative","scale":{"domain":[0,3.5],"nice":false},
       "axis":{"orient":"left","title":"E","labels":false,"ticks":false,"domain":false,"titleAngle":0,"titleFontSize":67,
        "titleAlign":"left","titleBaseline":"alphabetic","titleX":-85,"titleY":211}},
     "text":{"field":"t"}}}
 ],
 "resolve":{"scale":{"y":"independent"}}},
{"width":705,"height":304,
 "layer":[
  {"transform":[{"filter":"datum.p == 'c'"}],
   "mark":{"type":"line","strokeWidth":3.5,"interpolate":"monotone","strokeJoin":"round"},
   "encoding":{
    "x":{"field":"x","type":"quantitative","scale":{"domain":[0,1.5],"nice":false,"zero":false},
      "axis":{"values":[0,0.1,0.2,0.3,0.4,0.5,0.6,0.7,0.8,0.9,1,1.1,1.2,1.3,1.4,1.5],
       "labelExpr":"abs(datum.value*2-round(datum.value*2))<0.001?format(datum.value,'.1f'):''","labelPadding":8,
       "labelFlush":false,"labelOverlap":false,"labelBound":false,
       "title":"Epot, kcal/mol","titleFontSize":63,"titleBaseline":"alphabetic","titleAlign":"center","titleX":362,"titleY":123,
       "tickSize":{"condition":{"test":"abs(datum.value*2-round(datum.value*2))<0.001","value":13},"value":7}}},
    "y":{"field":"y","type":"quantitative","scale":{"domain":[0,3.5],"nice":false},
      "axis":{"values":[0,0.2,0.4,0.6,0.8,1,1.2,1.4,1.6,1.8,2,2.2,2.4,2.6,2.8,3,3.2,3.4],"title":null,
       "labelExpr":"datum.value==round(datum.value)?format(datum.value,'d'):''","labelPadding":7,
       "labelFontSize":{"condition":{"test":"datum.value==round(datum.value)","value":23},"value":1},
       "tickSize":{"condition":{"test":"datum.value==round(datum.value)","value":12},"value":6}}},
    "color":{"field":"l","type":"nominal",
      "scale":{"domain":["λ=0.0","λ=0.1","λ=0.2","λ=0.3","λ=0.5","λ=0.7","λ=1","λ=2"],
               "range":["#000000","#ff0000","#00ff00","#0000ff","#00ffff","#ff00ff","#000080","#ff8000"]},
      "legend":null}
   }},
  {"data":{"values":[{"t":"(c)"}]},
   "mark":{"type":"text","font":"Liberation Sans","fontSize":52,"align":"center","baseline":"middle","color":"black"},
   "encoding":{
    "x":{"datum":0.657,"type":"quantitative",
      "axis":{"values":[0,0.1,0.2,0.3,0.4,0.5,0.6,0.7,0.8,0.9,1,1.1,1.2,1.3,1.4,1.5],
       "labelExpr":"abs(datum.value*2-round(datum.value*2))<0.001?format(datum.value,'.1f'):''","labelPadding":8,
       "labelFlush":false,"labelOverlap":false,"labelBound":false,
       "title":"Epot, kcal/mol","titleFontSize":63,"titleBaseline":"alphabetic","titleAlign":"center","titleX":362,"titleY":123,
       "tickSize":{"condition":{"test":"abs(datum.value*2-round(datum.value*2))<0.001","value":13},"value":7}}},
    "y":{"datum":2.98,"type":"quantitative",
      "axis":{"values":[0,0.2,0.4,0.6,0.8,1,1.2,1.4,1.6,1.8,2,2.2,2.4,2.6,2.8,3,3.2,3.4],"title":null,
       "labelExpr":"datum.value==round(datum.value)?format(datum.value,'d'):''","labelPadding":7,
       "labelFontSize":{"condition":{"test":"datum.value==round(datum.value)","value":23},"value":1},
       "tickSize":{"condition":{"test":"datum.value==round(datum.value)","value":12},"value":6}}},
    "text":{"field":"t"}}}
 ]}
],
"spacing":0,
"bounds":"flush",
"resolve":{"legend":{"color":"independent"}},
"config":{
 "view":{"stroke":"black","strokeWidth":2},
 "axis":{"domainColor":"black","domainWidth":2,"tickColor":"black","tickWidth":2,"grid":false,
   "labelFont":"Liberation Sans","labelFontSize":23,"labelColor":"black","labelOverlap":false,
   "titleFont":"Liberation Sans","titleColor":"black","titleFontWeight":"normal"},
 "text":{"font":"Liberation Sans"}
}
}
